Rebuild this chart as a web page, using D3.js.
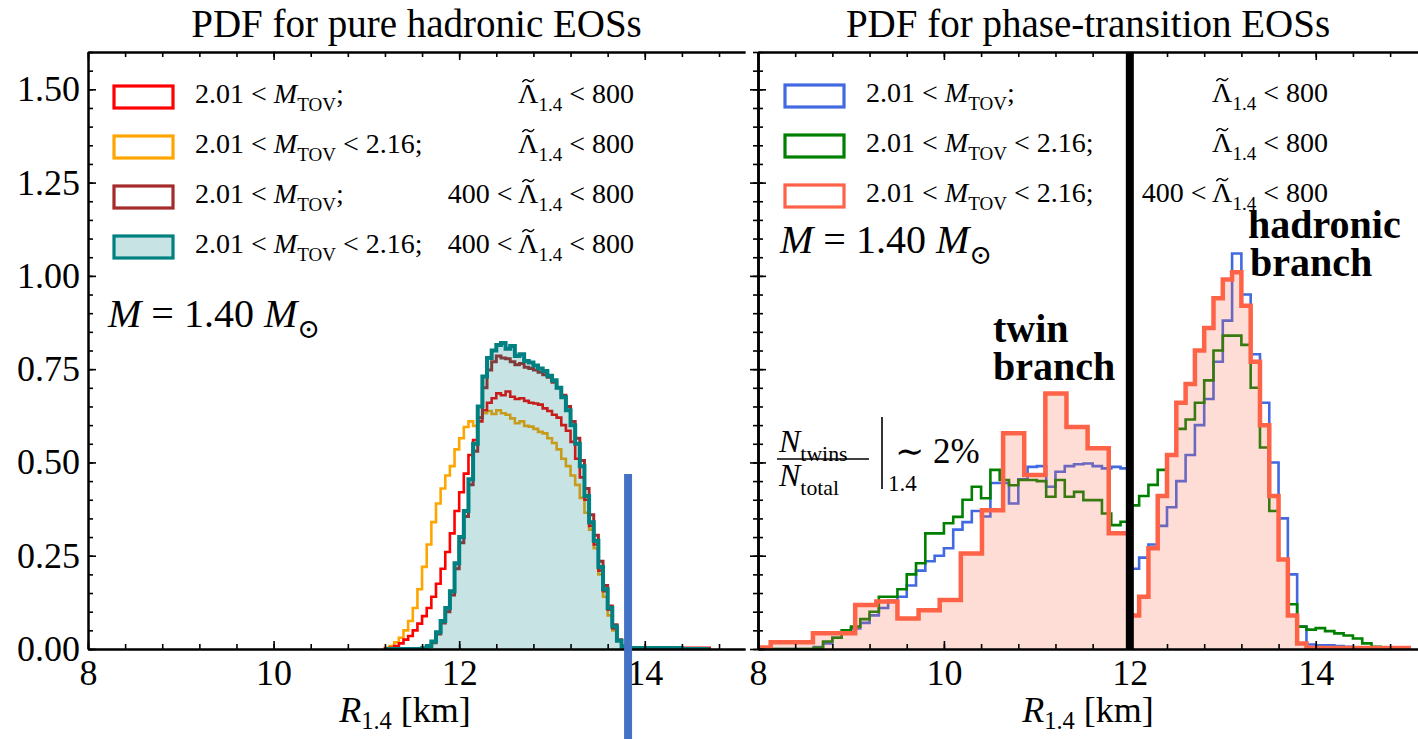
<!DOCTYPE html>
<html><head><meta charset="utf-8">
<script src="https://cdn.jsdelivr.net/npm/d3@7"></script>
<style>
body{margin:0;background:#fff}
svg text{font-family:"Liberation Serif","DejaVu Serif",serif;fill:#000;white-space:pre}
</style>
</head><body>
<svg id="c" width="1418" height="739"></svg>
<script>
// ---------------- DATA ----------------
const xTickValues = [8, 10, 12, 14];
const yTickValues = [0, 0.25, 0.5, 0.75, 1.0, 1.25, 1.5];
const panelTitles = ["PDF for pure hadronic EOSs", "PDF for phase-transition EOSs"];

// Left panel (pure hadronic), bins of 0.05 km starting at 11.2 km (70 bins, to 14.7 km)
const leftBinStart = 11.2;
const leftBinWidth = 0.05;
const orangeVals = [
  0.003,0.008,0.018,0.03,0.05,0.075,0.11,0.16,0.22,0.28,
  0.34,0.39,0.43,0.465,0.49,0.535,0.565,0.595,0.61,0.598,
  0.62,0.632,0.638,0.63,0.64,0.632,0.628,0.618,0.605,0.61,
  0.598,0.596,0.59,0.582,0.578,0.565,0.552,0.535,0.51,0.49,
  0.465,0.44,0.405,0.365,0.32,0.27,0.2,0.14,0.09,0.05,
  0.022,0.008,0.003,0.002,
  0.002,0.002,0.001,0,0,0,0,0,0,0,0,0,0,0,0,0];
const redVals = [
  0.001,0.003,0.008,0.015,0.025,0.035,0.05,0.068,0.088,0.11,
  0.14,0.175,0.215,0.26,0.31,0.37,0.42,0.47,0.52,0.56,
  0.61,0.64,0.66,0.672,0.685,0.68,0.69,0.676,0.67,0.672,
  0.665,0.66,0.658,0.655,0.645,0.638,0.628,0.62,0.6,0.585,
  0.555,0.51,0.46,0.4,0.33,0.28,0.21,0.155,0.105,0.055,
  0.022,0.008,0.004,0.003,
  0.003,0.003,0.003,0.003,0.003,0.003,0.003,0.003,0.003,0.003,0.003,0.003,0.003,0.003,0.003,0.003];
const brownVals = [
  0,0,0,0,0,0,0,0,0.002,0.006,
  0.017,0.04,0.07,0.1,0.145,0.215,0.285,0.355,0.44,0.53,
  0.62,0.7,0.748,0.77,0.785,0.78,0.778,0.77,0.762,0.765,
  0.755,0.752,0.748,0.742,0.735,0.728,0.715,0.7,0.68,0.65,
  0.61,0.565,0.505,0.43,0.36,0.305,0.235,0.17,0.115,0.065,
  0.025,0.008,0.003,0.002,
  0.002,0.002,0.002,0.002,0.002,0.002,0.002,0.002,0.002,0.002,0,0,0,0,0,0];
const tealVals = [
  0,0,0,0,0,0,0,0,0.002,0.008,
  0.02,0.045,0.075,0.11,0.155,0.23,0.3,0.37,0.455,0.55,
  0.65,0.73,0.78,0.8,0.815,0.82,0.805,0.812,0.785,0.79,
  0.772,0.768,0.76,0.752,0.745,0.732,0.72,0.7,0.675,0.64,
  0.6,0.55,0.49,0.41,0.34,0.29,0.22,0.16,0.11,0.06,
  0.022,0.006,0.003,0.003,
  0.003,0.003,0.003,0.003,0.003,0.003,0.003,0.003,0.003,0.003,0,0,0,0,0,0];

// Right panel (phase transition), bins of 0.1 km starting at 8.0 km
const rightBinStart = 8.0;
const rightBinWidth = 0.1;
const blueVals = [0,0,0,0,0,0,0.005,0.015,0.03,0.045,
  0.055,0.07,0.09,0.11,0.13,0.14,0.17,0.21,0.235,0.25,
  0.27,0.32,0.34,0.37,0.355,0.445,0.445,0.39,0.455,0.488,
  0.49,0.435,0.475,0.49,0.495,0.497,0.49,0.484,0.488,0.484,
  0.215,0.245,0.28,0.33,0.38,0.45,0.52,0.6,0.67,0.77,
  0.88,1.06,0.95,0.79,0.66,0.5,0.35,0.2,0.06,0.012,
  0.01,0.01,0.008,0.006,0.004,0.002,0,0,0,0];
const greenVals = [0,0,0,0,0,0,0.003,0.02,0.03,0.05,
  0.06,0.08,0.1,0.14,0.14,0.16,0.2,0.23,0.31,0.31,
  0.337,0.354,0.4,0.435,0.404,0.48,0.453,0.439,0.453,0.453,
  0.45,0.408,0.453,0.408,0.421,0.399,0.399,0.363,0.332,0.341,
  0.385,0.41,0.44,0.48,0.52,0.59,0.615,0.66,0.72,0.8,
  0.84,0.84,0.815,0.7,0.54,0.37,0.24,0.12,0.06,0.052,
  0.056,0.048,0.042,0.036,0.028,0.015,0.006,0.002,0,0];
// Tomato series: twin branch (coarse bins ending at 12 km) + hadronic branch (0.1 km bins from 12 km)
const twinBinStart = 7.909;
const twinBinWidth = 0.2273;
const tomatoTwinVals = [0.004,0.018,0.018,0.042,0.042,0.118,0.127,0.082,0.104,0.131,0.256,0.372,0.578,0.466,0.685,0.595,0.538,0.31];
const hadBinStart = 12.0;
const hadBinWidth = 0.1;
const tomatoHadVals = [0.09,0.14,0.27,0.41,0.52,0.66,0.71,0.8,0.86,0.94,0.99,1.01,0.92,0.77,0.6,0.41,0.24,0.09,0.015,0.003,0.003,0.003,0.003,0.003,0.003,0.003,0.003,0.003,0.003,0.003];

const transitionRadius = 12.0;     // black vertical line in right panel
const markerRadius = 13.82;        // blue marker bar in left panel

// legend labels (parts: [text, style]); "t" = letter with tilde accent
const legendLeftA = [
  [["2.01 < ","n"],["M","i"],["TOV","sub"],[";","n"]],
  [["2.01 < ","n"],["M","i"],["TOV","sub"],[" < 2.16;","n"]],
  [["2.01 < ","n"],["M","i"],["TOV","sub"],[";","n"]],
  [["2.01 < ","n"],["M","i"],["TOV","sub"],[" < 2.16;","n"]]
];
const legendLeftB = [
  [["Λ","t"],["1.4","sub"],[" < 800","n"]],
  [["Λ","t"],["1.4","sub"],[" < 800","n"]],
  [["400 < ","n"],["Λ","t"],["1.4","sub"],[" < 800","n"]],
  [["400 < ","n"],["Λ","t"],["1.4","sub"],[" < 800","n"]]
];
const legendRightA = [legendLeftA[0], legendLeftA[1], legendLeftA[1]];
const legendRightB = [legendLeftB[0], legendLeftB[1], legendLeftB[3]];
const leftColors = ["#ff0000","#ffa500","#a52a2a","#008080"];
const rightColors = ["#4169e1","#008000","#ff6347"];

// ---------------- DRAW ----------------
const svg = d3.select("#c");
const yTop = 52, yBot = 649;
const y = d3.scaleLinear().domain([0, 1.6]).range([yBot, yTop]);
const xL = d3.scaleLinear().domain([8, 15.08]).range([88, 745]);
const xR = d3.scaleLinear().domain([8, 15.1]).range([758, 1418]);

function richText(g, x, yb, parts, size, anchor, weight, subShift) {
  const t = g.append("text").attr("x", x).attr("y", yb)
    .attr("font-size", size).attr("text-anchor", anchor || "start");
  if (weight) t.attr("font-weight", weight);
  let shift = 0;
  const tildes = [];
  parts.forEach(([s, k]) => {
    const ts = t.append("tspan").text(s);
    let target = 0;
    if (k === "sub") { ts.attr("font-size", size * 0.68); target = size * (subShift || 0.28); }
    if (k === "i") ts.attr("font-style", "italic");
    if (k === "t") tildes.push(ts);
    if (target !== shift) { ts.attr("dy", target - shift); shift = target; }
  });
  // tilde accent drawn as a small curve above the letter
  tildes.forEach(ts => {
    const n = ts.node();
    const p = n.getStartPositionOfChar(0);
    const w = n.getComputedTextLength();
    const cx = p.x + w / 2, ty = p.y - size * 0.8, tw = size * 0.42, th = size * 0.09;
    const path = d3.path();
    path.moveTo(cx - tw / 2, ty + th * 0.6);
    path.quadraticCurveTo(cx - tw / 4, ty - th, cx, ty);
    path.quadraticCurveTo(cx + tw / 4, ty + th, cx + tw / 2, ty - th * 0.6);
    g.append("path").attr("d", path.toString()).attr("fill", "none")
      .attr("stroke", "#000").attr("stroke-width", 1.4);
  });
  return t;
}

function stepPts(start, w, vals) {
  const pts = [[start, 0]];
  vals.forEach((v, i) => { pts.push([start + i * w, v]); pts.push([start + (i + 1) * w, v]); });
  pts.push([start + vals.length * w, 0]);
  return pts;
}

function panel(x, clipId) {
  const g = svg.append("g");
  const [x0, x1] = x.range();
  svg.append("clipPath").attr("id", clipId).append("rect")
    .attr("x", x0).attr("y", yTop).attr("width", x1 - x0).attr("height", yBot - yTop);
  return g;
}

function axes(g, x, leftBoth) {
  const [x0] = x.range();
  const dom = x.domain();
  const minor = d3.range(8, dom[1] + 1e-6, 0.4);
  const major = xTickValues;
  g.append("g").attr("transform", `translate(0,${yBot})`)
    .call(d3.axisBottom(x).tickValues(minor).tickSize(-5).tickSizeOuter(0).tickFormat(""));
  g.append("g").attr("transform", `translate(0,${yBot})`)
    .call(d3.axisBottom(x).tickValues(major).tickSize(-8).tickSizeOuter(0).tickPadding(10).tickFormat(d3.format("d")));
  g.append("g").attr("transform", `translate(0,${yTop})`)
    .call(d3.axisTop(x).tickValues(minor).tickSize(-5).tickSizeOuter(0).tickFormat(""));
  g.append("g").attr("transform", `translate(0,${yTop})`)
    .call(d3.axisTop(x).tickValues(major).tickSize(-8).tickSizeOuter(0).tickFormat(""));
  const yMinor = d3.range(0, 1.6 + 1e-6, 0.05);
  g.append("g").attr("transform", `translate(${x0},0)`)
    .call(d3.axisLeft(y).tickValues(yMinor).tickSize(-5).tickSizeOuter(0).tickFormat(""));
  g.append("g").attr("transform", `translate(${x0},0)`)
    .call(d3.axisLeft(y).tickValues(yTickValues).tickSize(-8).tickSizeOuter(0).tickPadding(8)
      .tickFormat(leftBoth ? "" : d3.format(".2f")));
  if (leftBoth) {
    g.append("g").attr("transform", `translate(${x0},0)`)
      .call(d3.axisLeft(y).tickValues(yMinor).tickSize(5).tickSizeOuter(0).tickFormat(""));
    g.append("g").attr("transform", `translate(${x0},0)`)
      .call(d3.axisLeft(y).tickValues(yTickValues).tickSize(8).tickSizeOuter(0).tickFormat(""));
  }
  g.selectAll(".domain").attr("stroke", "#000").attr("stroke-width", 2);
  g.selectAll(".tick line").attr("stroke", "#000").attr("stroke-width", 1.6);
  g.selectAll(".tick text").attr("font-family", "Liberation Serif").attr("font-size", 36).attr("fill", "#000");
}

function drawStep(g, x, pts, color, width, clipId) {
  const line = d3.line().x(d => x(d[0])).y(d => y(d[1]));
  g.append("path").attr("d", line(pts)).attr("fill", "none").attr("stroke", color)
    .attr("stroke-width", width).attr("stroke-linejoin", "miter").attr("clip-path", `url(#${clipId})`);
}
function drawFill(g, x, pts, color, op, clipId) {
  const area = d3.area().x(d => x(d[0])).y0(y(0)).y1(d => y(d[1]));
  g.append("path").attr("d", area(pts)).attr("fill", color).attr("fill-opacity", op)
    .attr("stroke", "none").attr("clip-path", `url(#${clipId})`);
}

// ---- Left panel ----
const gL = panel(xL, "clipL");
drawStep(gL, xL, stepPts(leftBinStart, leftBinWidth, orangeVals), leftColors[1], 2.6, "clipL");
drawStep(gL, xL, stepPts(leftBinStart, leftBinWidth, redVals), leftColors[0], 2.6, "clipL");
drawStep(gL, xL, stepPts(leftBinStart, leftBinWidth, brownVals), leftColors[2], 3, "clipL");
const tealPts = stepPts(leftBinStart, leftBinWidth, tealVals);
drawFill(gL, xL, tealPts, leftColors[3], 0.22, "clipL");
drawStep(gL, xL, tealPts, leftColors[3], 4, "clipL");
axes(gL, xL, false);

// ---- Right panel ----
const gR = panel(xR, "clipR");
drawStep(gR, xR, stepPts(rightBinStart, rightBinWidth, blueVals), rightColors[0], 2.6, "clipR");
drawStep(gR, xR, stepPts(rightBinStart, rightBinWidth, greenVals), rightColors[1], 2.6, "clipR");
const twinPts = stepPts(twinBinStart, twinBinWidth, tomatoTwinVals);
const hadPts = stepPts(hadBinStart, hadBinWidth, tomatoHadVals);
const tomatoPts = twinPts.slice(0, -1).concat(hadPts.slice(1));
drawFill(gR, xR, tomatoPts, rightColors[2], 0.22, "clipR");
drawStep(gR, xR, tomatoPts, rightColors[2], 4.5, "clipR");
gR.append("line").attr("x1", xR(transitionRadius)).attr("x2", xR(transitionRadius))
  .attr("y1", y(1.6)).attr("y2", y(0)).attr("stroke", "#000").attr("stroke-width", 8);
axes(gR, xR, true);

// ---- Titles & axis labels ----
svg.append("text").attr("x", (88 + 745) / 2).attr("y", 37).attr("text-anchor", "middle")
  .attr("font-size", 39).text(panelTitles[0]);
svg.append("text").attr("x", (758 + 1418) / 2).attr("y", 37).attr("text-anchor", "middle")
  .attr("font-size", 39).text(panelTitles[1]);
[405, 1088].forEach(cx => {
  richText(svg, cx, 722, [["R","i"],["1.4","sub"],[" [km]","n"]], 36, "middle", null, 0.2);
});

// ---- Legends ----
function legend(colors, la, lb, boxX, textX, rightX, y0, filled) {
  colors.forEach((c, i) => {
    const cy = y0 + i * 50;
    svg.append("rect").attr("x", boxX).attr("y", cy - 11).attr("width", 59).attr("height", 22)
      .attr("fill", filled[i] ? c : "#fff").attr("fill-opacity", filled[i] ? 0.22 : 1)
      .attr("stroke", c).attr("stroke-width", 3.2);
    richText(svg, textX, cy + 6, la[i], 28, "start");
    richText(svg, rightX, cy + 6, lb[i], 28, "end");
  });
}
legend(leftColors, legendLeftA, legendLeftB, 114, 195, 634, 97, [false,false,false,true]);
legend(rightColors, legendRightA, legendRightB, 785, 866, 1328, 96, [false,false,false]);

// M = 1.40 Msun
richText(svg, 108, 327, [["M","i"],[" = 1.40 ","n"],["M","i"],["⊙","sub"]], 40, "start");
richText(svg, 780, 253, [["M","i"],[" = 1.40 ","n"],["M","i"],["⊙","sub"]], 40, "start");

// annotations
svg.append("text").attr("x", 993).attr("y", 342).attr("font-size", 40).attr("font-weight", "bold").text("twin");
svg.append("text").attr("x", 993).attr("y", 380).attr("font-size", 40).attr("font-weight", "bold").text("branch");
svg.append("text").attr("x", 1248).attr("y", 238).attr("font-size", 40).attr("font-weight", "bold").text("hadronic");
svg.append("text").attr("x", 1250).attr("y", 276).attr("font-size", 40).attr("font-weight", "bold").text("branch");

// fraction N_twins / N_total |_1.4 ~ 2%
richText(svg, 779, 452, [["N","i"],["twins","sub"]], 32, "start");
svg.append("line").attr("x1", 777).attr("x2", 869).attr("y1", 459).attr("y2", 459).attr("stroke", "#000").attr("stroke-width", 1.6);
richText(svg, 779, 486, [["N","i"],["total","sub"]], 32, "start");
svg.append("line").attr("x1", 882).attr("x2", 882).attr("y1", 417).attr("y2", 489).attr("stroke", "#000").attr("stroke-width", 1.6);
svg.append("text").attr("x", 888).attr("y", 491).attr("font-size", 23).text("1.4");
svg.append("text").attr("x", 895).attr("y", 463).attr("font-size", 35).text("∼ 2%");

// blue marker bar
svg.append("rect").attr("x", xL(markerRadius) - 4).attr("y", 474).attr("width", 8).attr("height", 739 - 474)
  .attr("fill", "#4472c4");
</script>
</body></html>
